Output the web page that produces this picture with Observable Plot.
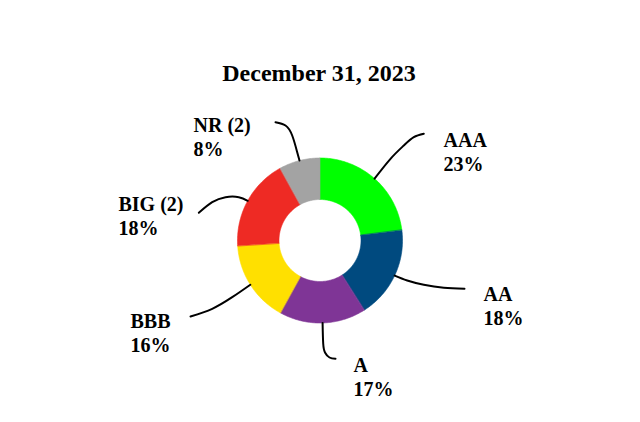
<!DOCTYPE html>
<html><head><meta charset="utf-8">
<script src="https://cdn.jsdelivr.net/npm/d3@7"></script>
<script src="https://cdn.jsdelivr.net/npm/@observablehq/plot@0.6"></script>
<style>html,body{margin:0;padding:0;background:#fff;} svg{display:block;}</style>
</head><body><div id="chart"></div>
<script>
// ---- data ----
const title = "December 31, 2023";
const categories = ["AAA", "AA", "A", "BBB", "BIG (2)", "NR (2)"];
const shares = [23, 18, 17, 16, 18, 8];
const colors = ["#00ff00", "#004a7f", "#7f3596", "#ffe000", "#ee2a24", "#a3a3a3"];

// ---- layout (pixels) ----
const W = 640, H = 422, cx = 319.5, cy = 240, R = 82.5, R0 = 41;
const labelPos = [[443, 170], [483, 324], [353, 395], [130, 351], [118, 234], [193, 155]];
const leaderPts = [
  [[390, 158.3], [403.3, 145], [413.3, 136.7], [423.3, 133.3]],
  [[406.7, 280], [423.3, 284.3], [443.3, 287.3], [464, 288.3]],
  [[322.7, 343], [324.5, 352], [329, 357], [335, 358.3]],
  [[231.7, 296.7], [211.7, 308.3], [190, 316]],
  [[238.3, 196.7], [225, 196.7], [211.7, 201.7], [198.3, 212.3]],
  [[296.7, 151.7], [291.7, 135], [285, 125], [275, 121.7]]
];

const arcs = d3.pie().sort(null).value(d => d)(shares);
const pt = (a, r) => ({x: cx + r * Math.sin(a), y: cy - r * Math.cos(a)});

const slicePts = [];
arcs.forEach((a, i) => {
  const n = Math.max(2, Math.ceil((a.endAngle - a.startAngle) / (Math.PI / 180)) + 1);
  const outer = [], inner = [];
  for (let k = 0; k < n; k++) {
    const t = a.startAngle + (a.endAngle - a.startAngle) * k / (n - 1);
    outer.push(pt(t, R));
    inner.push(pt(t, R0));
  }
  inner.reverse();
  for (const p of outer.concat(inner)) slicePts.push({...p, cat: categories[i]});
});

const leaderData = [];
arcs.forEach((a, i) => {
  const mid = (a.startAngle + a.endAngle) / 2;
  leaderData.push({...pt(mid, R), cat: categories[i]});
  for (const [x, y] of leaderPts[i]) leaderData.push({x, y, cat: categories[i]});
});

const labelData = categories.map((c, i) => ({
  x: labelPos[i][0], y: labelPos[i][1], text: `${c}\n${shares[i]}%`
}));

const chart = Plot.plot({
  width: W, height: H, margin: 0,
  style: {background: "#fff"},
  x: {domain: [0, W], range: [0, W], axis: null},
  y: {domain: [0, H], range: [0, H], axis: null},
  color: {domain: categories, range: colors},
  marks: [
    Plot.line(slicePts, {x: "x", y: "y", z: "cat", fill: "cat", stroke: "cat", strokeWidth: 0.6, curve: "linear-closed"}),
    Plot.line(leaderData, {x: "x", y: "y", z: "cat", stroke: "black", strokeWidth: 2, curve: "natural"}),
    Plot.text(labelData, {x: "x", y: "y", text: "text", textAnchor: "start", lineAnchor: "bottom", lineHeight: 1.2,
      fontSize: 20, fontWeight: "bold", fontFamily: "Liberation Serif", fill: "black"}),
    Plot.text([title], {frameAnchor: "top", dx: -1.5, dy: 80, lineAnchor: "bottom",
      fontSize: 24, fontWeight: "bold", fontFamily: "Liberation Serif", fill: "black"})
  ]
});
document.getElementById("chart").appendChild(chart);
</script>
</body></html>
